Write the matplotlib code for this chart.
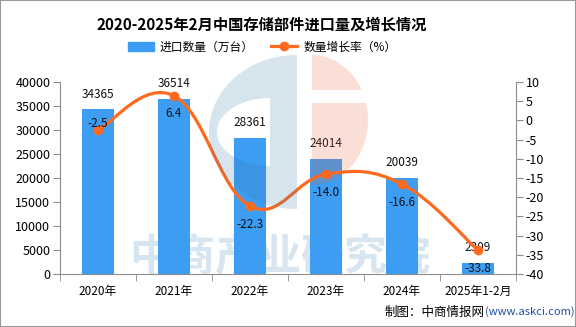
import numpy as np
import matplotlib
matplotlib.use("Agg")
import matplotlib.pyplot as plt
from matplotlib.path import Path
from matplotlib.patches import PathPatch, Rectangle
from matplotlib.lines import Line2D
from matplotlib.transforms import Affine2D

plt.rcParams['font.family'] = ['Noto Sans CJK SC', 'DejaVu Sans']
plt.rcParams['axes.unicode_minus'] = False

years = ["2020年", "2021年", "2022年", "2023年", "2024年", "2025年1-2月"]
imports = [34365, 36514, 28361, 24014, 20039, 2309]
growth = [-2.5, 6.4, -22.3, -14.0, -16.6, -33.8]

bar_color = "#3d9df3"
line_color = "#ff6a1f"
axis_gray = "#8c8c8c"

W, H = 576, 327
fig = plt.figure(figsize=(W / 100, H / 100), dpi=100)
px = Affine2D().scale(1 / W, 1 / H) + fig.transFigure

ax = fig.add_axes([60 / W, 53 / H, 456 / W, 192 / H])
ax2 = ax.twinx()
for a in (ax, ax2):
    a.patch.set_visible(False)

x = np.arange(len(years))
ax.bar(x, imports, width=0.41, color=bar_color, zorder=2)
ax.set_xlim(-0.5, len(years) - 0.5)
ax.set_ylim(0, 40000)
ax.set_yticks(range(0, 40001, 5000))
ax2.set_ylim(-40, 10)
ax2.set_yticks(range(-40, 11, 5))

ax.set_xticks(x)
ax.set_xticklabels(years)
ax.set_xticks(np.arange(-0.5, len(years), 1), minor=True)
ax.tick_params(axis='x', which='major', length=0, pad=8, labelsize=8.5)
ax.tick_params(axis='x', which='minor', length=5, color=axis_gray, direction='out')
ax.tick_params(axis='y', length=5, color=axis_gray, labelsize=9, pad=2)
ax2.tick_params(axis='y', length=5, color=axis_gray, labelsize=9, pad=2)

for a in (ax, ax2):
    a.spines['top'].set_visible(False)
    for s in ('left', 'right', 'bottom'):
        a.spines[s].set_color(axis_gray)
ax.spines['right'].set_visible(False)
ax2.spines['left'].set_visible(False)
ax2.spines['bottom'].set_visible(False)

# smooth growth line built from cubic bezier segments through the points
pts = np.column_stack([x, growth]).astype(float)
s = 0.2
verts = [pts[0]]
codes = [Path.MOVETO]
n = len(pts)
for i in range(n - 1):
    p0 = pts[max(i - 1, 0)]
    p1 = pts[i]
    p2 = pts[i + 1]
    p3 = pts[min(i + 2, n - 1)]
    c1 = p1 + (p2 - p0) * s
    c2 = p2 - (p3 - p1) * s
    verts += [c1, c2, p2]
    codes += [Path.CURVE4] * 3
ax2.add_patch(PathPatch(Path(verts, codes), fill=False, edgecolor=line_color,
                        lw=2.3, zorder=3))
ax2.plot(x, growth, 'o', color=line_color, markersize=6, zorder=4)

for xi, v in zip(x, imports):
    ax.annotate(str(v), (xi, v), xytext=(0, 15), textcoords='offset pixels',
                ha='center', va='center', fontsize=8.5, color='#111')
for xi, g in zip(x, growth):
    dy = 6 if xi == 0 else -18
    ax2.annotate(f"{g:.1f}", (xi, g), xytext=(0, dy), textcoords='offset pixels',
                 ha='center', va='center', fontsize=8.5, color='#111', zorder=6)

fig.text(262 / W, 1 - 25 / H, "2020-2025年2月中国存储部件进口量及增长情况",
         ha='center', va='center', fontsize=11, fontweight='bold')

handles = [Rectangle((0, 0), 1, 1, color=bar_color),
           Line2D([], [], color=line_color, lw=2.3, marker='o', markersize=6)]
fig.legend(handles, ["进口数量（万台）", "数量增长率（%）"], ncol=2,
           loc='center', bbox_to_anchor=(262 / W, 1 - 47 / H), frameon=False,
           fontsize=8.5, handlelength=2.2, handleheight=0.9, columnspacing=1.5,
           handletextpad=0.5)

# watermark
fig.text(280 / W, 1 - 256 / H, "中商产业研究院", ha='center', va='center',
         fontsize=31, fontweight='bold', color='#d6e5ef', zorder=-1)


def half_ellipse(cx, cy, rx, ry, left=True, num=60):
    t = np.linspace(np.pi / 2, 3 * np.pi / 2, num) if left else \
        np.linspace(-np.pi / 2, np.pi / 2, num)
    return np.column_stack([cx + rx * np.cos(t), cy + ry * np.sin(t)])


# blue C with an inner slot
outer = half_ellipse(297, H - 132, 88, 77)
inner = half_ellipse(270, H - 132, 53, 34)[::-1]
outer_path = np.vstack([outer, outer[:1]])
inner_path = np.vstack([inner, inner[:1]])
c_verts = np.vstack([outer_path, inner_path])
c_codes = ([Path.MOVETO] + [Path.LINETO] * (len(outer_path) - 2) + [Path.CLOSEPOLY]
           + [Path.MOVETO] + [Path.LINETO] * (len(inner_path) - 2) + [Path.CLOSEPOLY])
fig.add_artist(PathPatch(Path(c_verts, c_codes), transform=px, facecolor=(0.2, 0.47, 0.67),
                         edgecolor='none', alpha=0.2, zorder=10))

# orange half disc split by a white band
half = half_ellipse(312, H - 120, 56, 65, left=False)
for y0, y1 in ((H - 90, H), (0, H - 103)):
    p = fig.add_artist(PathPatch(Path(np.vstack([half, half[:1]])), transform=px,
                                 facecolor=(0.9, 0.39, 0.2), edgecolor='none',
                                 alpha=0.2, zorder=10))
    clip = Rectangle((0, y0), W, y1 - y0, transform=px)
    p.set_clip_path(clip)

fig.text(485 / W, 1 - 312 / H, "制图：中商情报网", ha='right', va='center', fontsize=9)
fig.text(485 / W, 1 - 312 / H, "(www.askci.com)", ha='left', va='center',
         fontsize=8, color='#1f4e9c')

fig.add_artist(Rectangle((0, 0), 1, 1, transform=fig.transFigure, fill=False,
                         edgecolor='#999999', lw=1.5))

fig.savefig("out.png", dpi=100)
